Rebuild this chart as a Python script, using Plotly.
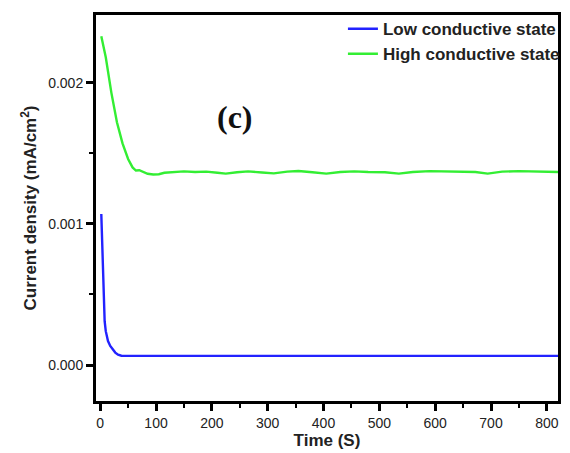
import plotly.graph_objects as go

# Data
green_t = [2, 10, 20, 30, 40, 50, 58, 64, 70, 76, 85, 95, 105, 115, 130, 150, 170, 190,
           210, 225, 245, 265, 290, 311, 335, 355, 380, 405, 430, 455, 480, 510, 535,
           560, 590, 620, 650, 672, 694, 720, 750, 780, 800, 820]
green_j = [0.00233, 0.00218, 0.00193, 0.00172, 0.00157, 0.00146, 0.00140, 0.001378,
           0.001380, 0.001372, 0.001355, 0.001350, 0.001352, 0.001362, 0.001368,
           0.001372, 0.001368, 0.001370, 0.001362, 0.001356, 0.001366, 0.001372,
           0.001364, 0.001358, 0.001370, 0.001375, 0.001366, 0.001356, 0.001368,
           0.001372, 0.001368, 0.001366, 0.001356, 0.001368, 0.001374, 0.001370,
           0.001366, 0.001368, 0.001356, 0.001370, 0.001374, 0.001370, 0.001368, 0.001368]

blue_t = [2, 3, 4, 5, 6, 8, 10, 14, 18, 22, 27, 32, 38, 50, 100, 150, 200, 250, 300,
          350, 400, 450, 500, 550, 600, 650, 700, 750, 800, 820]
blue_j = [0.00107, 0.00095, 0.00075, 0.00055, 0.00043, 0.00031, 0.00024, 0.00017,
          0.000135, 0.00011, 0.000088, 0.000073, 0.000066, 0.000065, 0.000065,
          0.000065, 0.000065, 0.000065, 0.000065, 0.000065, 0.000065, 0.000065,
          0.000065, 0.000065, 0.000065, 0.000065, 0.000065, 0.000065, 0.000065, 0.000065]

x_ticks = [0, 100, 200, 300, 400, 500, 600, 700, 800]
y_ticks = [0.000, 0.001, 0.002]
y_tick_labels = ["0.000", "0.001", "0.002"]

SANS = "Arial, Liberation Sans, sans-serif"

fig = go.Figure()
fig.add_trace(go.Scatter(x=blue_t, y=blue_j, mode="lines", name="<b>Low conductive state</b>",
                         line=dict(color="#2222ff", width=2.4)))
fig.add_trace(go.Scatter(x=green_t, y=green_j, mode="lines", name="<b>High conductive state</b>",
                         line=dict(color="#33ee33", width=2.4)))

fig.add_annotation(x=241, y=0.00176, xref="x", yref="y", text="<b>(c)</b>", showarrow=False,
                   font=dict(family="Times New Roman, Liberation Serif, serif", size=32, color="#111"))

axis_common = dict(showline=True, linecolor="black", linewidth=3, mirror=True,
                   ticks="outside", tickcolor="black", tickwidth=2.5, ticklen=7,
                   showgrid=False, zeroline=False,
                   tickfont=dict(family=SANS, size=14, color="#222"))

fig.update_xaxes(range=[-7.5, 820], tickvals=x_ticks,
                 minor=dict(dtick=50, tick0=0, ticks="outside", ticklen=4, tickwidth=2, tickcolor="black"),
                 title=dict(text="<b>Time (S)</b>", font=dict(family=SANS, size=17, color="#222"), standoff=2),
                 **axis_common)
fig.update_yaxes(range=[-0.000255, 0.00248], tickvals=y_ticks, ticktext=y_tick_labels,
                 minor=dict(dtick=0.0005, tick0=0, ticks="outside", ticklen=4, tickwidth=2, tickcolor="black"),
                 title=dict(text="<b>Current density (mA/cm<sup>2</sup>)</b>",
                            font=dict(family=SANS, size=17, color="#222"), standoff=8),
                 **axis_common)

fig.update_layout(
    width=570, height=453,
    margin=dict(l=96, r=5, t=15, b=52),
    paper_bgcolor="white", plot_bgcolor="white",
    showlegend=True,
    legend=dict(x=1.015, y=1.01, xanchor="right", yanchor="top", bgcolor="rgba(0,0,0,0)",
                font=dict(family=SANS, size=17, color="#222"), tracegroupgap=0,
                itemwidth=30),
)

fig.write_html("out.html", config={"displayModeBar": False},
               post_script="document.body.style.margin='0';document.body.style.padding='0';")
